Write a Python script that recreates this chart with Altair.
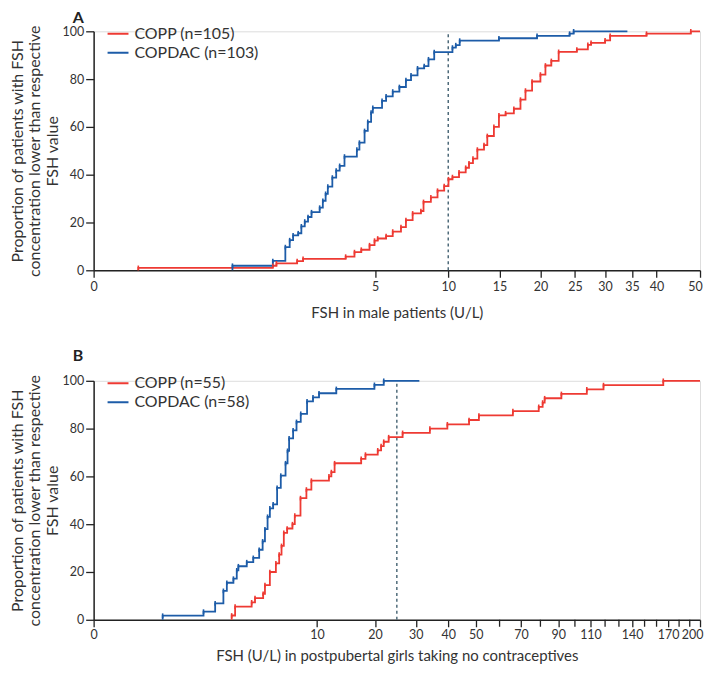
import altair as alt
import pandas as pd

# ---------------- data ----------------
# Panel A: FSH in male patients (U/L) – cumulative proportion (%) at each step
a_copp_label = "COPP (n=105)"
a_copdac_label = "COPDAC (n=103)"
a_copp_fsh = [0.02, 1.29, 1.37, 1.89, 2.06, 3.59, 3.98, 4.30, 4.71, 4.97, 5.14, 5.61,
              6.00, 6.51, 6.83, 7.28, 7.86, 8.05, 8.60, 9.12, 9.66, 10.02, 10.36, 10.94,
              11.55, 11.86, 12.24, 12.67, 13.34, 13.68, 14.38, 14.93, 15.68, 16.64, 17.44,
              18.06, 18.90, 20.00, 20.68, 21.50, 22.55, 25.30, 27.07, 27.60, 30.00, 30.90,
              37.90, 47.75]
a_copp_pct = [1.0, 1.9, 2.9, 3.8, 4.8, 5.7, 7.6, 8.6, 10.5, 12.4, 13.3, 14.3,
              16.2, 18.1, 21.0, 23.8, 24.8, 28.6, 30.5, 33.3, 35.2, 38.1, 39.0, 41.0,
              42.9, 44.8, 46.7, 50.5, 52.4, 56.2, 60.0, 64.8, 65.7, 67.6, 71.4,
              75.2, 79.0, 81.9, 85.7, 87.6, 91.4, 92.4, 94.3, 95.2, 96.2, 98.1,
              99.0, 100.0]
a_copp_end = 50.0
a_copdac_fsh = [0.60, 1.29, 1.58, 1.69, 1.78, 1.92, 2.01, 2.11, 2.21, 2.32, 2.59, 2.70,
                2.80, 2.88, 3.05, 3.20, 3.34, 3.54, 4.09, 4.21, 4.46, 4.62, 4.79, 4.88,
                5.38, 5.61, 6.00, 6.41, 6.83, 7.17, 7.62, 8.10, 8.42, 8.86, 10.36, 10.65,
                11.00, 14.93, 19.55, 24.18, 24.80]
a_copdac_pct = [1.9, 3.9, 9.7, 12.6, 14.6, 15.5, 18.4, 20.4, 22.3, 24.3, 26.2, 29.1,
                32.0, 35.0, 38.8, 41.7, 43.7, 47.6, 50.5, 53.4, 58.3, 62.1, 66.0, 68.0,
                70.9, 72.8, 74.8, 76.7, 79.6, 81.6, 84.5, 85.4, 88.3, 91.3, 93.2, 94.2,
                96.1, 97.1, 98.1, 99.0, 100.0]
a_copdac_end = 34.1
a_ref = [10]
a_tick_labels = [0, 5, 10, 15, 20, 25, 30, 35, 40, 50]
a_minor_ticks = []

# Panel B: FSH (U/L) in postpubertal girls taking no contraceptives
b_copp_label = "COPP (n=55)"
b_copdac_label = "COPDAC (n=58)"
b_copp_fsh = [2.36, 2.54, 3.54, 3.77, 4.37, 4.51, 4.91, 5.43, 5.73, 5.95, 6.17, 6.50,
              7.05, 7.30, 7.94, 8.64, 9.26, 11.69, 12.05, 12.55, 17.18, 18.02, 20.57,
              21.31, 21.90, 23.04, 26.46, 34.10, 39.70, 47.46, 51.30, 66.10, 79.10,
              81.20, 82.30, 91.80, 107.60, 118.90, 165.80]
b_copp_pct = [1.8, 5.5, 7.3, 9.1, 10.9, 14.5, 20.0, 23.6, 27.3, 30.9, 36.4, 38.2,
              40.0, 43.6, 50.9, 54.5, 58.2, 60.0, 61.8, 65.5, 67.3, 69.1, 70.9,
              72.7, 74.5, 76.4, 78.2, 80.0, 81.8, 83.6, 85.5, 87.3, 89.1,
              90.9, 92.7, 94.5, 96.4, 98.2, 100.0]
b_copp_end = 200.0
b_copdac_fsh = [0.295, 1.19, 1.61, 1.96, 2.12, 2.45, 2.63, 2.72, 3.22, 3.65, 4.07, 4.33,
                4.51, 4.72, 4.91, 5.19, 5.54, 5.88, 6.34, 6.54, 6.70, 7.12, 7.49, 7.97,
                8.72, 9.47, 10.27, 12.82, 19.86, 21.90]
b_copdac_pct = [1.7, 3.4, 6.9, 12.1, 15.5, 17.2, 20.7, 22.4, 24.1, 25.9, 29.3, 32.8,
                37.9, 43.1, 46.6, 48.3, 55.2, 60.3, 65.5, 70.7, 75.9, 79.3, 82.8, 86.2,
                91.4, 93.1, 94.8, 96.6, 98.3, 100.0]
b_copdac_end = 31.0
b_ref = [25]
b_tick_labels = [0, 10, 20, 30, 40, 50, 70, 90, 110, 140, 170, 200]
b_minor_ticks = [60, 80, 100, 120, 130, 150, 160, 180, 190]

RED = "#ee3a33"
BLUE = "#1d5ca8"
FONT = "Lato"
TXT = "#333333"
AXC = "#222222"
Y_TITLE = ["Proportion of patients with FSH",
           "concentration lower than respective",
           "FSH value"]


def step_table(label, fsh, pct, end):
    xs = [fsh[0]] + list(fsh) + [end]
    ys = [0.0] + list(pct) + [pct[-1]]
    return pd.DataFrame({"fsh": xs, "pct": ys, "group": label, "i": range(len(xs))})


def point_table(label, fsh, pct):
    return pd.DataFrame({"fsh": fsh, "pct": pct, "group": label})


def panel(letter, labels, curves, end_max, ref, tick_labels, minor, xtitle):
    lines = pd.concat([step_table(lab, f, p, e) for lab, (f, p, e) in zip(labels, curves)])
    pts = pd.concat([point_table(lab, f, p) for lab, (f, p, e) in zip(labels, curves)])

    xs = alt.Scale(type="pow", exponent=1 / 3, domain=[0, end_max], nice=False, zero=True)
    ys = alt.Scale(domain=[0, 100], nice=False)
    cs = alt.Scale(domain=labels, range=[RED, BLUE])

    last = tick_labels[-1]
    shift = -5 if last < 100 else -8
    xaxis = alt.Axis(values=tick_labels, title=xtitle, grid=False,
                     tickSize=7, tickWidth=1.3, tickColor=AXC, domainColor=AXC,
                     domainWidth=1.5, labelFontSize=12.5, labelColor=TXT, labelFont=FONT,
                     labelPadding=3 if letter == "A" else 2,
                     labelOverlap=False, labelFlush=False, labelBound=False,
                     labelOffset={"condition": {"test": f"datum.value == {last}",
                                                "value": shift}, "value": 0},
                     titleFont=FONT, titleFontSize=15, titleFontWeight="normal",
                     titleColor=TXT, titlePadding=7 if letter == "B" else 13)
    yaxis = alt.Axis(values=[0, 20, 40, 60, 80, 100], title=Y_TITLE, grid=False,
                     tickSize=8, tickWidth=1.3, tickColor=AXC, domainColor=AXC,
                     domainWidth=1.5, labelFontSize=12.5, labelColor=TXT, labelFont=FONT,
                     labelPadding=2, titleFont=FONT, titleFontSize=16,
                     titleFontWeight="normal", titleColor=TXT, titleLineHeight=17.5,
                     titlePadding=2)

    legend = alt.Legend(title=None, orient="none", legendX=13, legendY=-7,
                        symbolType="stroke", symbolSize=441, symbolStrokeWidth=2,
                        labelFont=FONT, labelFontSize=16, labelColor=TXT,
                        labelOffset=5, clipHeight=19, rowPadding=0, padding=0)

    line = alt.Chart(lines).mark_line(interpolate="step-after", strokeWidth=1.8).encode(
        x=alt.X("fsh:Q", scale=xs, axis=xaxis),
        y=alt.Y("pct:Q", scale=ys, axis=yaxis),
        color=alt.Color("group:N", scale=cs, legend=legend, sort=labels),
        order="i:Q",
    )
    marks = alt.Chart(pts).mark_point(shape="M0,-1L0,1", size=22, strokeWidth=1.6,
                                      filled=False, opacity=1).encode(
        x=alt.X("fsh:Q", scale=xs),
        y=alt.Y("pct:Q", scale=ys),
        color=alt.Color("group:N", scale=cs, legend=None),
    )
    rule = alt.Chart(pd.DataFrame({"v": ref})).mark_rule(
        strokeDash=[3, 3], color="#4f6b7a", strokeWidth=1.5).encode(
        x=alt.X("v:Q", scale=xs), y=alt.datum(0), y2=alt.datum(100))
    layers = [rule, line, marks]
    if minor:
        mt = alt.Chart(pd.DataFrame({"m": minor})).mark_rule(
            color=AXC, strokeWidth=1.3).encode(
            x=alt.X("m:Q", scale=xs), y=alt.value(240), y2=alt.value(247))
        layers.append(mt)
    ly = -8 if letter == "A" else -20
    tag = alt.Chart(pd.DataFrame({"t": [letter]})).mark_text(
        font=FONT, fontSize=16, fontWeight="bold", color="#222", align="left",
        baseline="alphabetic").encode(text="t:N", x=alt.value(-21), y=alt.value(ly))
    layers.append(tag)
    return alt.layer(*layers).properties(width=609, height=240)


pa = panel("A", [a_copp_label, a_copdac_label],
           [(a_copp_fsh, a_copp_pct, a_copp_end), (a_copdac_fsh, a_copdac_pct, a_copdac_end)],
           50, a_ref, a_tick_labels, a_minor_ticks, "FSH in male patients (U/L)")
pb = panel("B", [b_copp_label, b_copdac_label],
           [(b_copp_fsh, b_copp_pct, b_copp_end), (b_copdac_fsh, b_copdac_pct, b_copdac_end)],
           200, b_ref, b_tick_labels, b_minor_ticks,
           "FSH (U/L) in postpubertal girls taking no contraceptives")

chart = alt.vconcat(pa, pb, spacing=111, bounds="flush").resolve_scale(
    color="independent", x="independent").resolve_legend(color="independent").properties(
    padding={"left": 0, "top": 0, "right": 0, "bottom": 0}
).configure_view(stroke=None).configure(background="white")

chart.save("out.html", embed_options={"renderer": "svg", "actions": False})
